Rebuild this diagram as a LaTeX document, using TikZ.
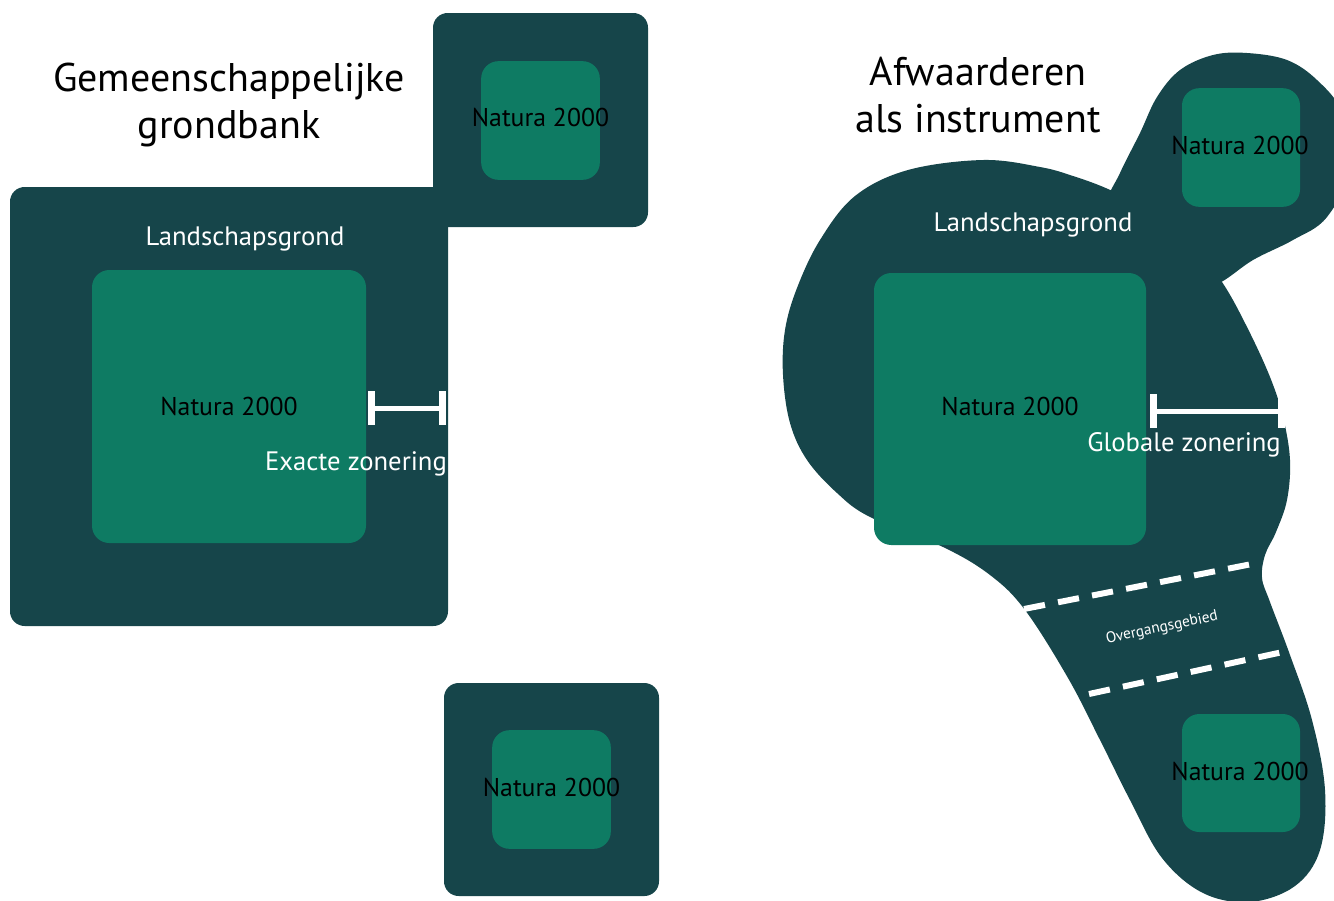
\documentclass[tikz,border=0pt]{standalone}
\usepackage{fontspec}
\setmainfont{PT Sans}
\usetikzlibrary{arrows.meta}
\definecolor{landgrond}{RGB}{22,69,74}
\definecolor{natura}{RGB}{14,123,99}

\begin{document}
\begin{tikzpicture}[x=0.75pt,y=0.75pt,yscale=-1,xscale=1,
  landbox/.style={fill=landgrond, rounded corners=11pt, inner sep=0pt},
  naturabox/.style={fill=natura, rounded corners=13pt, inner sep=0pt, minimum width=89pt, minimum height=89pt},
  naturatext/.style={inner sep=0.75pt, text=black, font=\fontsize{19.3}{23}\selectfont},
  whitetext/.style={inner sep=0.75pt, text=white, font=\fontsize{20}{24}\selectfont},
  titletext/.style={inner sep=0.75pt, text=black, align=center, font=\fontsize{30}{35}\selectfont},
  zonebar/.style={draw=white, line width=3.75pt, {Bar[width=25pt,line width=5pt]}-{Bar[width=25pt,line width=5pt]}},
  overgang/.style={draw=white, line width=4.5pt, dash pattern={on 16pt off 10pt}}]
\useasboundingbox (0,0) rectangle (1334,900);

%Left diagram
\node [landbox, minimum width=328.5pt, minimum height=329.25pt] (bigland) at (229,406.5) {};
\node [landbox, minimum width=161.25pt, minimum height=160.5pt] (topland) at (540.5,120) {};
\node [landbox, minimum width=161.25pt, minimum height=159.75pt] (botland) at (551.5,789.5) {};
\node [naturabox, minimum width=205.5pt, minimum height=204.75pt] (bignat) at (229,406.5) {};
\node [naturabox] (topnat) at (540.5,120.5) {};
\node [naturabox] (botnat) at (551.5,789.5) {};

% Text Node
\node [titletext] (lefttitle) at (229,105) {Gemeenschappelijke\\grondbank};
\node [whitetext] (leftland) at (245,239) {Landschapsgrond};
\node [naturatext] at (bignat) {Natura 2000};
\node [naturatext] at (540.5,117) {Natura 2000};
\node [naturatext] at (551.5,787) {Natura 2000};

%Exacte zonering
\coordinate (exactA) at (368,408);
\coordinate (exactB) at (446,408);
\draw [zonebar] (exactA) -- (exactB);
\node [whitetext] (exactlabel) at (356,464) {Exacte zonering};

%Right diagram: main area
\fill [landgrond] plot [smooth cycle, tension=0.6] coordinates {
  (783,375) (790,423) (807,460) (837,493) (870,517) (943,547) (990,575) (1025,610)
  (1068,678) (1100,740) (1130,800) (1162,858) (1203,893) (1250,902) (1295,886)
  (1320,850) (1325,790) (1312,720) (1290,655) (1270,602) (1262,578) (1265,555)
  (1276,532) (1287,500) (1290,460) (1283,417) (1270,377) (1247,327) (1222,282)
  (1190,242) (1150,210) (1108,189) (1073,176) (1040,167) (983,160) (908,170)
  (855,196) (820,240) (797,288) (785,330)};
%Right diagram: upper lobe
\fill [landgrond] plot [smooth cycle, tension=0.6] coordinates {
  (1120,173) (1140,133) (1157,97) (1180,70) (1213,55) (1247,53) (1287,60) (1317,80)
  (1342,112) (1352,165) (1327,217) (1293,240) (1253,260) (1215,285) (1175,290)
  (1125,250) (1108,205)};

\node [naturabox, minimum width=204pt, minimum height=204pt] (mainnat) at (1010,409) {};
\node [naturabox, minimum width=88.5pt] (upnat) at (1241,147.5) {};
\node [naturabox, minimum width=88.5pt, minimum height=88.5pt] (lownat) at (1241,773) {};

% Text Node
\node [titletext] (righttitle) at (978,95) {Afwaarderen\\als instrument};
\node [whitetext] (rightland) at (1033,225) {Landschapsgrond};
\node [naturatext] at (1010,406) {Natura 2000};
\node [naturatext] at (1240,145) {Natura 2000};
\node [naturatext] at (1240,771) {Natura 2000};

%Globale zonering
\coordinate (globalA) at (1150,411);
\coordinate (globalB) at (1285,411);
\draw [zonebar] (globalA) -- (globalB);
\node [whitetext] (globallabel) at (1184,445) {Globale zonering};

%Overgangsgebied
\coordinate (overA1) at (1024,609);
\coordinate (overA2) at (1262,562);
\coordinate (overB1) at (1089,694);
\coordinate (overB2) at (1292,650);
\draw [overgang] (overA1) -- (overA2);
\draw [overgang] (overB1) -- (overB2);
\node [inner sep=0.75pt, text=white, font=\fontsize{11.5}{13}\selectfont, rotate=12] (overlabel) at (1162,628) {Overgangsgebied};

\end{tikzpicture}
\end{document}
